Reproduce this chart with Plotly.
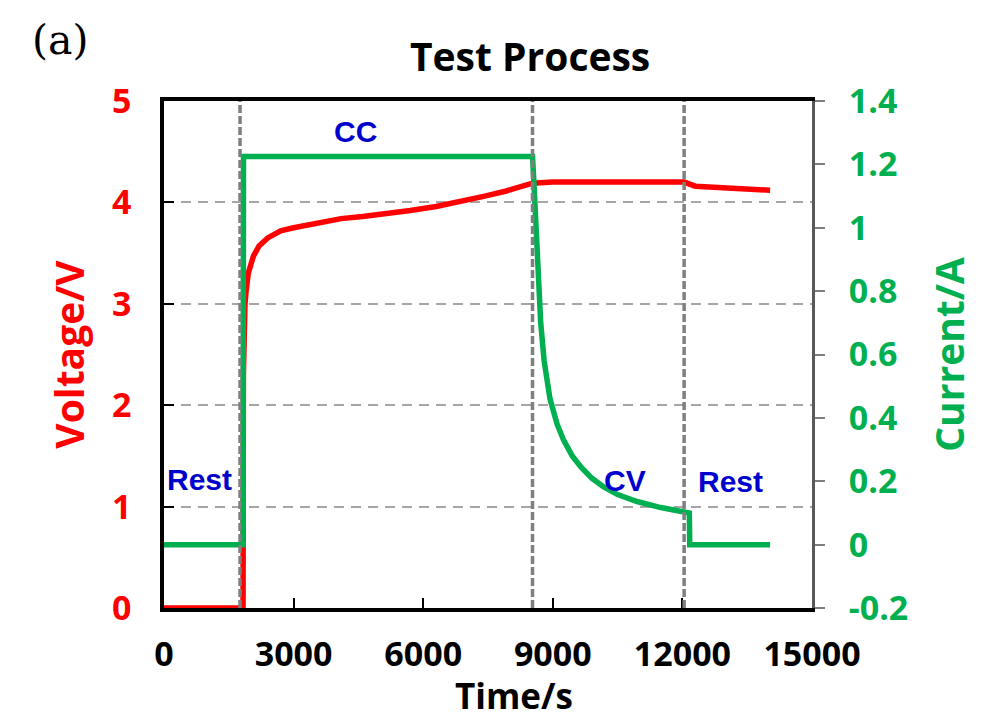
import plotly.graph_objects as go

# charge test: rest -> constant current -> constant voltage -> rest
volt_t = [0, 1830, 1838, 1850, 1875, 1900, 1950, 2070, 2200, 2400, 2700, 3000, 3500,
          4100, 4600, 5200, 5700, 6300, 6900, 7400, 7900, 8250, 8530, 9000, 10000,
          11000, 12040, 12300, 13000, 14030]
volt_v = [0, 0, 2.3, 2.8, 3.0, 3.12, 3.3, 3.47, 3.57, 3.65, 3.72, 3.75, 3.79,
          3.84, 3.86, 3.89, 3.92, 3.96, 4.01, 4.06, 4.11, 4.15, 4.19, 4.2, 4.2,
          4.2, 4.2, 4.16, 4.14, 4.12]

curr_t = [0, 1830, 1840, 8530, 8560, 8600, 8650, 8720, 8800, 8935, 9100, 9250, 9450,
          9650, 9900, 10170, 10500, 10950, 11500, 12060, 12160, 12170, 14030]
curr_a = [0, 0, 1.225, 1.225, 1.15, 1.03, 0.88, 0.70, 0.58, 0.46, 0.38, 0.33, 0.28,
          0.245, 0.21, 0.183, 0.158, 0.136, 0.117, 0.10, 0.10, 0, 0]

phase_bounds = [1760, 8530, 12040]
phase_labels = ["Rest", "CC", "CV", "Rest"]
label_t = [830, 4440, 10670, 13120]
label_v = [1.27, 4.7, 1.26, 1.25]

curr_ticks = [-0.2, 0, 0.2, 0.4, 0.6, 0.8, 1.0, 1.2, 1.4]
curr_ticktext = ["-0.2", "0", "0.2", "0.4", "0.6", "0.8", "1", "1.2", "1.4"]

RED = "#FF0000"
GREEN = "#00B050"
BLUE = "#0000CC"
FONT = "Open Sans"

fig = go.Figure()
fig.add_trace(go.Scatter(x=volt_t, y=volt_v, mode="lines",
                         line=dict(color=RED, width=5.5), showlegend=False))
fig.add_trace(go.Scatter(x=curr_t, y=curr_a, mode="lines", yaxis="y2",
                         line=dict(color=GREEN, width=5.5), showlegend=False))

for t in phase_bounds:
    fig.add_shape(type="line", xref="x", yref="paper", x0=t, x1=t, y0=0, y1=1,
                  line=dict(color="#7F7F7F", width=3.5, dash="8px,3px"), layer="above")

for txt, t, v in zip(phase_labels, label_t, label_v):
    fig.add_annotation(x=t, y=v, text=txt, showarrow=False,
                       font=dict(family="Liberation Sans", size=30, color=BLUE, weight="bold"))

fig.add_annotation(x=-0.16, y=1.121, xref="paper", yref="paper", text="(a)", showarrow=False,
                   xanchor="center", yanchor="middle",
                   font=dict(family="DejaVu Serif", size=41, color="black"))

# x axis title placed by hand, it sits a bit right of centre in the original
fig.add_annotation(x=0.54, y=-0.172, xref="paper", yref="paper", text="Time/s", showarrow=False,
                   xanchor="center", yanchor="middle",
                   font=dict(family=FONT, size=35, color="black", weight="bold"))

# page body has an 8px margin, so the figure is 16px smaller than the window
fig.update_layout(
    width=988, height=711,
    plot_bgcolor="white", paper_bgcolor="white",
    margin=dict(l=156, r=184, t=93, b=111, autoexpand=False),
    title=dict(text="Test Process", x=0.565, xref="paper", xanchor="center",
               y=0.931, yref="container", yanchor="middle",
               font=dict(family=FONT, size=39, color="black", weight="bold")),
    xaxis=dict(range=[0, 15000], tickvals=[0, 3000, 6000, 9000, 12000, 15000],
               tickformat="d", showgrid=False, zeroline=False,
               showline=True, linecolor="black", linewidth=3.5, mirror=True,
               ticks="inside", ticklen=10, tickwidth=2, tickcolor="black",
               ticklabelstandoff=13,
               tickfont=dict(family=FONT, size=34, color="black", weight="bold")),
    yaxis=dict(range=[0, 5], dtick=1, tick0=0, zeroline=False,
               showgrid=True, gridcolor="#A6A6A6", gridwidth=2, griddash="10px,7px",
               showline=True, linecolor="black", linewidth=3.5,
               ticks="inside", ticklen=10, tickwidth=2, tickcolor="black",
               ticklabelstandoff=22,
               tickfont=dict(family=FONT, size=34, color=RED, weight="bold"),
               title=dict(text="Voltage/V", standoff=16,
                          font=dict(family=FONT, size=39, color=RED, weight="bold"))),
    yaxis2=dict(range=[-0.2, 1.4], overlaying="y", side="right",
                tickvals=curr_ticks, ticktext=curr_ticktext,
                showgrid=False, zeroline=False,
                showline=True, linecolor="#595959", linewidth=3,
                ticks="outside", ticklen=10, tickwidth=2, tickcolor="#7F7F7F",
                ticklabelstandoff=17,
                tickfont=dict(family=FONT, size=34, color=GREEN, weight="bold"),
                title=dict(text="Current/A", standoff=30,
                           font=dict(family=FONT, size=39, color=GREEN, weight="bold"))),
)

fig.write_html("out.html")
